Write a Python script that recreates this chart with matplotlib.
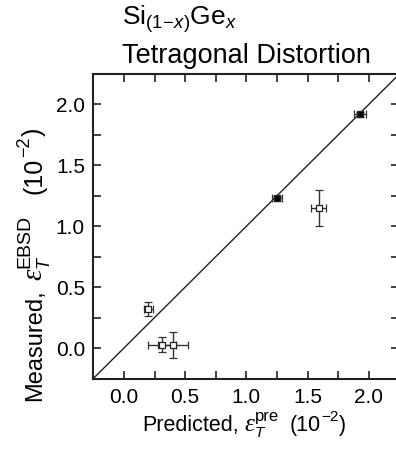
import matplotlib
matplotlib.use("Agg")
import matplotlib.pyplot as plt
from matplotlib.ticker import MultipleLocator, FormatStrFormatter

plt.rcParams['font.family'] = ['Liberation Sans', 'DejaVu Sans']
plt.rcParams['mathtext.fontset'] = 'custom'
plt.rcParams['mathtext.rm'] = 'Liberation Sans'
plt.rcParams['mathtext.it'] = 'Liberation Sans:italic'
plt.rcParams['mathtext.bf'] = 'Liberation Sans:bold'

# Filled markers (predicted, measured, errors) in units of 1e-2
pred_filled = [1.93, 1.25]
meas_filled = [1.92, 1.23]
pred_err_filled = [0.047, 0.04]
meas_err_filled = [0.02, 0.02]

# Open markers
pred_open = [1.59, 0.20, 0.31, 0.40]
meas_open = [1.15, 0.32, 0.027, 0.022]
pred_err_open = [0.063, 0.04, 0.117, 0.12]
meas_err_open = [0.15, 0.055, 0.06, 0.106]

xlim = (-0.25, 2.25)
ylim = (-0.25, 2.25)

W, H = 396, 449
fig = plt.figure(figsize=(W / 100, H / 100), dpi=100)
ax = fig.add_axes([93.3 / W, 70.5 / H, (399.4 - 93.3) / W, (378.5 - 74) / H])

ax.plot(xlim, ylim, color='#222222', lw=1.0, zorder=1)

ebkw = dict(fmt='s', ms=4.4, ecolor='#333333', elinewidth=1.0, capsize=3,
            capthick=1.0, mew=0.9, mec='#222222', zorder=3)
ax.errorbar(pred_filled, meas_filled, xerr=pred_err_filled, yerr=meas_err_filled,
            mfc='black', **ebkw)
ax.errorbar(pred_open, meas_open, xerr=pred_err_open, yerr=meas_err_open,
            mfc='white', **ebkw)

ax.set_xlim(*xlim)
ax.set_ylim(*ylim)
ax.xaxis.set_major_locator(MultipleLocator(0.5))
ax.yaxis.set_major_locator(MultipleLocator(0.5))
ax.xaxis.set_minor_locator(MultipleLocator(0.25))
ax.yaxis.set_minor_locator(MultipleLocator(0.25))
ax.xaxis.set_major_formatter(FormatStrFormatter('%.1f'))
ax.yaxis.set_major_formatter(FormatStrFormatter('%.1f'))
ax.tick_params(which='both', direction='in', top=True, right=True,
               length=6, width=1.2, color='#222222', labelsize=15)
ax.tick_params(axis='x', pad=7)
ax.tick_params(axis='y', pad=6)
for s in ax.spines.values():
    s.set_linewidth(1.5)
    s.set_color('#222222')


def piece_label(start, base, pieces, vertical=False):
    """Place text pieces one after another along a common baseline.
    pieces: (text, size, family, style, shift_pt, gap_pt, advance)"""
    anchor = None
    for text, size, fam, style, shift, gap, adv in pieces:
        kw = dict(fontsize=size, family=fam, style=style, ha='left', va='baseline',
                  annotation_clip=False)
        if vertical:
            kw.update(rotation=90, rotation_mode='anchor')
            if anchor is None:
                xy, xyc = (base, start), 'figure pixels'
            else:
                xy, xyc = (base, 1), ('figure pixels', anchor)
            off = (-shift, gap)
        else:
            if anchor is None:
                xy, xyc = (start, base), 'figure pixels'
            else:
                xy, xyc = (1, base), (anchor, 'figure pixels')
            off = (gap, shift)
        t = ax.annotate(text, xy=xy, xycoords=xyc, xytext=off,
                        textcoords='offset points', **kw)
        if adv or anchor is None:
            anchor = t
    return anchor


sans = ['Liberation Sans']
serif = ['Liberation Serif']
# x label: Predicted, eps_T^pre (10^-2)
xpieces = [
    ('Predicted,', 15.5, sans, 'normal', 0, 0, True),
    ('\u03b5', 18, serif, 'italic', 0, 4.5, True),
    ('T', 11, sans, 'italic', -4.5, 0, False),
    ('pre', 12, sans, 'normal', 7, 0, True),
    ('(10', 15.5, sans, 'normal', 0, 8, True),
    ('\u22122', 11, sans, 'normal', 7, 0, True),
    (')', 15.5, sans, 'normal', 0, 0, True),
]
piece_label(142, H - 431, xpieces)

ypieces = [
    ('Measured,', 17, sans, 'normal', 0, 0, True),
    ('\u03b5', 21, serif, 'italic', 0, 7, True),
    ('T', 13, sans, 'italic', -5.5, 0, False),
    ('EBSD', 14, sans, 'normal', 8.5, 0, True),
    ('(10', 18, sans, 'normal', 0, 15, True),
    ('\u22122', 13, sans, 'normal', 8.5, 0.5, True),
    (')', 18, sans, 'normal', 0, 0.5, True),
]
piece_label(H - 401, 41, ypieces, vertical=True)

fig.text(122 / W, 1 - 25 / H, r'Si$_{(1\!-\!x)}$Ge$_x$', fontsize=19, ha='left', va='baseline')
fig.text(122 / W, 1 - 63 / H, 'Tetragonal Distortion', fontsize=19.5, ha='left', va='baseline')

fig.savefig('out.png', dpi=100)
